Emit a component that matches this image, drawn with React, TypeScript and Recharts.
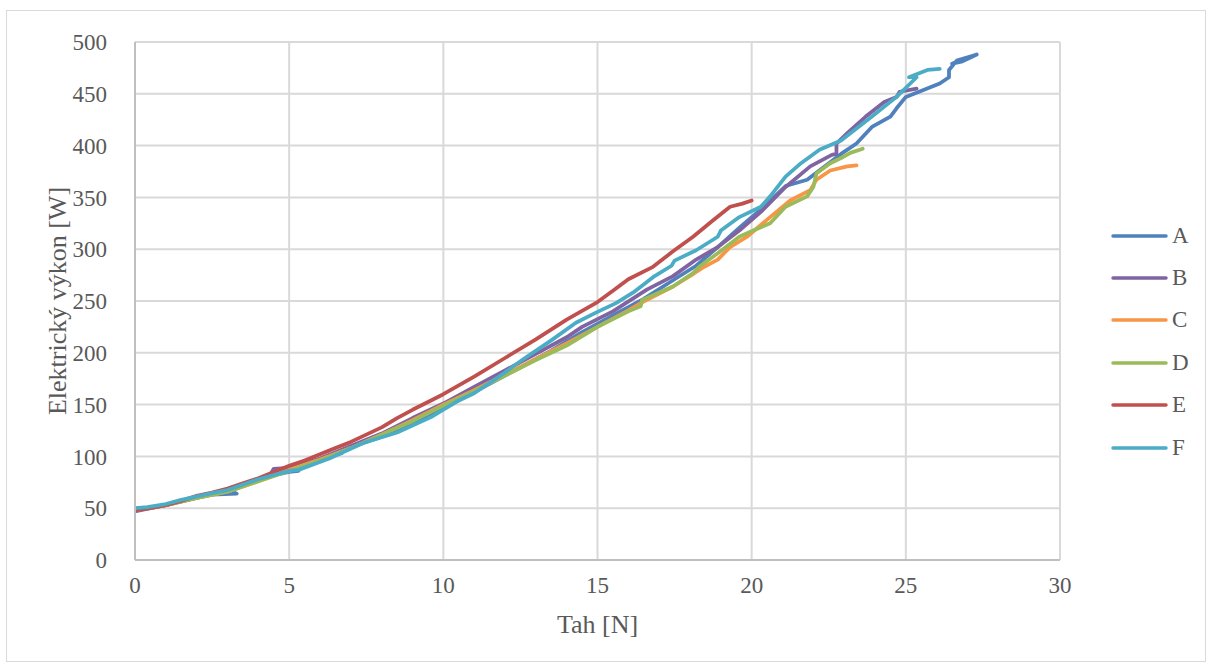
import { LineChart, Line, XAxis, YAxis, CartesianGrid } from 'recharts';

// Tah [N] / Elektrický výkon [W] — each series is [tah, výkon] pairs in measurement order
const SERIES_A: [number, number][] = [
  [0, 47], [0.5, 50], [1, 53], [2, 60], [2.5, 63], [3.3, 64], [3, 68], [3.5, 72], [4, 77], [4.5, 82],
  [5, 85], [5.3, 86], [5.4, 91], [6, 97], [6.7, 103], [6.8, 107], [7.5, 114], [8.5, 124], [9.5, 138],
  [10.5, 154], [11.5, 170], [12.5, 186], [13.5, 202], [14.5, 220], [15.5, 236], [16.5, 252], [17.5, 271],
  [18.2, 284], [18.9, 302], [19.65, 322], [20.4, 341], [21.1, 361], [21.8, 367], [22.9, 392], [23.4, 402],
  [23.9, 418], [24.5, 428], [24.7, 436], [25.0, 447], [26.1, 460], [26.4, 466], [26.4, 473], [26.65, 482],
  [27.2, 487], [26.9, 484], [26.5, 479], [26.8, 481], [27.3, 488], [27.0, 485],
];
const SERIES_B: [number, number][] = [
  [0, 48], [1, 53], [2, 61], [2.6, 64], [3, 68], [4, 77], [4.4, 83], [4.5, 88], [5, 89], [6, 98], [7, 110],
  [8, 122], [9, 137], [10, 151], [11, 167], [12, 183], [13, 199], [14, 215], [14.5, 225], [15.5, 240],
  [16.6, 261], [17.45, 274], [18.2, 290], [18.9, 302], [19.6, 318], [20.3, 336], [21.1, 360], [21.9, 380],
  [22.6, 391], [22.75, 392], [22.75, 402], [23.1, 412], [23.7, 428], [24.3, 442], [24.7, 447], [24.8, 452],
  [25.35, 455],
];
const SERIES_C: [number, number][] = [
  [0, 48], [1, 53], [2, 60], [3, 66], [4, 76], [5, 87], [6, 97], [7, 108], [8, 121], [9, 135], [10, 150],
  [11, 164], [12, 179], [13, 194], [14, 209], [15, 225], [16, 241], [16.4, 248], [17.45, 264], [18.1, 276],
  [18.4, 282], [18.9, 290], [19.3, 302], [19.85, 312], [20.6, 331], [21.25, 347], [21.9, 357], [22.1, 367],
  [22.55, 376], [23.1, 380], [23.4, 381],
];
const SERIES_D: [number, number][] = [
  [0, 48], [1, 53], [2, 60], [3, 66], [4, 76], [5, 86], [6, 96], [7, 108], [8, 121], [9, 134], [10, 149],
  [11, 163], [12, 178], [13, 193], [14, 207], [15, 225], [16, 240], [16.4, 245], [16.45, 251], [17.45, 264],
  [18.1, 277], [18.3, 283], [18.9, 296], [19.6, 312], [20.05, 318], [20.6, 325], [21.1, 341], [21.8, 351],
  [22.0, 360], [22.1, 373], [22.55, 383], [22.9, 388], [23.2, 393], [23.6, 397],
];
const SERIES_E: [number, number][] = [
  [0, 48], [0.5, 50], [1, 53], [1.5, 57], [2, 62], [2.5, 65], [3, 69], [3.5, 74], [4, 79], [4.5, 85],
  [5, 91], [5.5, 96], [6, 102], [6.5, 108], [7, 114], [7.5, 121], [8, 128], [8.5, 137], [9, 145],
  [9.6, 154], [10, 160], [11, 177], [12, 195], [13, 213], [14, 232], [15, 249], [15.5, 260], [16, 271],
  [16.8, 283], [17.45, 298], [18.1, 312], [18.75, 328], [19.3, 341], [19.7, 344], [20.0, 347],
];
const SERIES_F: [number, number][] = [
  [0, 50], [0.4, 51], [1, 54], [1.5, 58], [2.5, 64.5], [3, 67.5], [4, 78], [5, 86], [5.3, 87], [6.3, 98],
  [7.4, 113], [8.5, 123], [9.6, 138], [10.5, 154], [11, 161], [12, 181], [12.6, 194], [13.5, 212],
  [14.3, 229], [14.9, 238], [15.6, 248], [16.15, 258], [16.8, 273], [17.4, 284], [17.5, 289], [18.2, 299],
  [18.9, 312], [19, 318], [19.6, 331], [20.3, 341], [20.6, 351], [21.1, 370], [21.6, 383], [22.2, 396],
  [22.9, 405], [23.9, 428], [24.7, 447], [25.35, 466], [25.1, 466], [25.7, 473], [26.1, 474],
];

const X_TICKS = [0, 5, 10, 15, 20, 25, 30];
const Y_TICKS = [0, 50, 100, 150, 200, 250, 300, 350, 400, 450, 500];

const SERIES = [
  { name: 'A', color: '#4f81bd', points: SERIES_A },
  { name: 'B', color: '#8064a2', points: SERIES_B },
  { name: 'C', color: '#f79646', points: SERIES_C },
  { name: 'D', color: '#9bbb59', points: SERIES_D },
  { name: 'E', color: '#c0504d', points: SERIES_E },
  { name: 'F', color: '#4bacc6', points: SERIES_F },
];

const FONT = '"Liberation Serif", "Times New Roman", serif';
const TEXT = '#595959';
const TICK_SIZE = 23;
const TITLE_SIZE = 26;

// popisek osy Y: svislý, uprostřed výšky grafu
const YLabel = ({ viewBox }: any) => {
  const cx = viewBox.x + 57;
  const cy = viewBox.y + viewBox.height / 2;
  return (
    <text
      x={cx}
      y={cy}
      transform={`rotate(-90, ${cx}, ${cy})`}
      textAnchor="middle"
      dominantBaseline="central"
      fontSize={TITLE_SIZE}
      fill={TEXT}
      fontFamily={FONT}
    >
      Elektrický výkon [W]
    </text>
  );
};

// popisek osy X
const XLabel = ({ viewBox }: any) => (
  <text
    x={viewBox.x + viewBox.width / 2}
    y={viewBox.y + 73}
    textAnchor="middle"
    fontSize={TITLE_SIZE}
    fill={TEXT}
    fontFamily={FONT}
  >
    Tah [N]
  </text>
);

export default function App() {
  return (
    <div style={{ position: 'absolute', left: 0, top: 0, width: 1208, height: 666, background: '#fff' }}>
      <div style={{
        position: 'absolute', left: 6, top: 10, width: 1200, height: 652,
        border: '1px solid #d9d9d9', boxSizing: 'border-box',
      }} />
      <LineChart width={1208} height={666} margin={{ top: 42, right: 148, left: 0, bottom: 26 }}>
        <CartesianGrid stroke="#d9d9d9" strokeWidth={2} />
        <XAxis
          type="number"
          dataKey="x"
          domain={[0, 30]}
          ticks={X_TICKS}
          interval={0}
          allowDataOverflow
          height={80}
          tickLine={false}
          axisLine={{ stroke: '#bfbfbf', strokeWidth: 2 }}
          tickMargin={11}
          tick={{ fontSize: TICK_SIZE, fill: TEXT, fontFamily: FONT }}
          label={<XLabel />}
        />
        <YAxis
          type="number"
          dataKey="y"
          domain={[0, 500]}
          ticks={Y_TICKS}
          interval={0}
          width={135}
          tickLine={false}
          axisLine={{ stroke: '#bfbfbf', strokeWidth: 2 }}
          tickMargin={22}
          tick={{ fontSize: TICK_SIZE, fill: TEXT, fontFamily: FONT }}
          label={<YLabel />}
        />
        {SERIES.map(s => (
          <Line
            key={s.name}
            name={s.name}
            data={s.points.map(([x, y]) => ({ x, y }))}
            dataKey="y"
            type="linear"
            stroke={s.color}
            strokeWidth={3.75}
            strokeLinecap="round"
            strokeLinejoin="round"
            dot={false}
            activeDot={false}
            isAnimationActive={false}
          />
        ))}
      </LineChart>
      {/* legenda vpravo */}
      <div style={{ position: 'absolute', left: 1110, top: 214.5, fontFamily: FONT, fontSize: TICK_SIZE, color: TEXT }}>
        {SERIES.map(s => (
          <div key={s.name} style={{ display: 'flex', alignItems: 'center', height: 42.4 }}>
            <svg width={58} height={6} style={{ marginRight: 4 }}>
              <line x1={3} y1={3} x2={56} y2={3} stroke={s.color} strokeWidth={3.5} strokeLinecap="round" />
            </svg>
            <span>{s.name}</span>
          </div>
        ))}
      </div>
    </div>
  );
}
